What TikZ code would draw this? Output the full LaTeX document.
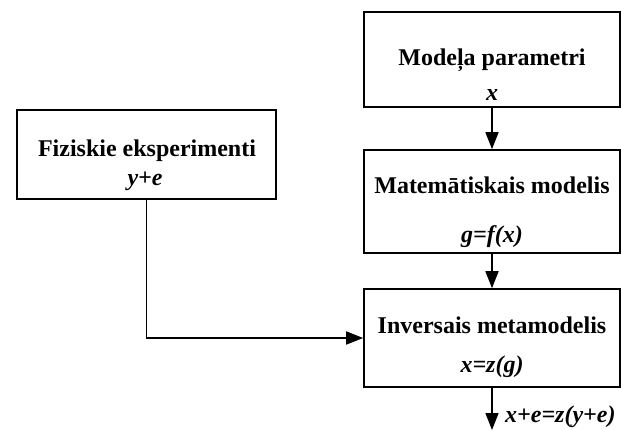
\documentclass[tikz,border=0pt]{standalone}
\usepackage{fontspec}
\setmainfont{Liberation Serif}
\usetikzlibrary{arrows.meta}
\begin{document}
\begin{tikzpicture}[x=1pt,y=-1pt,
  box/.style={draw, line width=1.6pt, inner sep=0pt, fill=none},
  ttl/.style={anchor=base, inner sep=0pt, font=\fontsize{24}{28}\selectfont\bfseries},
  mth/.style={anchor=base, inner sep=0pt, font=\fontsize{24}{28}\selectfont\bfseries\itshape},
  arr/.style={line width=1.6pt, -{Triangle[length=17pt,width=13pt]}}]
\useasboundingbox (0,0) rectangle (621,430);
% boxes
\node[box, minimum width=256pt, minimum height=95pt] (mp) at (492,59.5) {};
\node[box, minimum width=256pt, minimum height=103pt] (mm) at (492,201.5) {};
\node[box, minimum width=256pt, minimum height=98pt] (im) at (492,338) {};
\node[box, minimum width=259pt, minimum height=89pt] (fe) at (146.5,154.5) {};
% texts
\node[ttl] (mpt) at (492,66) {Modeļa parametri};
\node[mth] (mpx) at (492,101) {x};
\node[ttl] (mmt) at (492,194) {Matemātiskais modelis};
\node[mth] (mmf) at (492,243) {g=f(x)};
\node[ttl] (imt) at (492,333) {Inversais metamodelis};
\node[mth] (imz) at (492,372) {x=z(g)};
\node[ttl] (fet) at (147,157) {Fiziskie eksperimenti};
\node[mth] (fey) at (145,186) {y+e};
% connectors
\draw[arr] (mp.south) -- (mm.north);
\draw[arr] (mm.south) -- (im.north);
\draw[arr] (fe.south) |- (im.west);
\coordinate (out) at (492,430);
\draw[arr] (im.south) -- (out);
\node[mth, anchor=base west] (lbl) at (505,422) {x+e=z(y+e)};
\end{tikzpicture}
\end{document}
